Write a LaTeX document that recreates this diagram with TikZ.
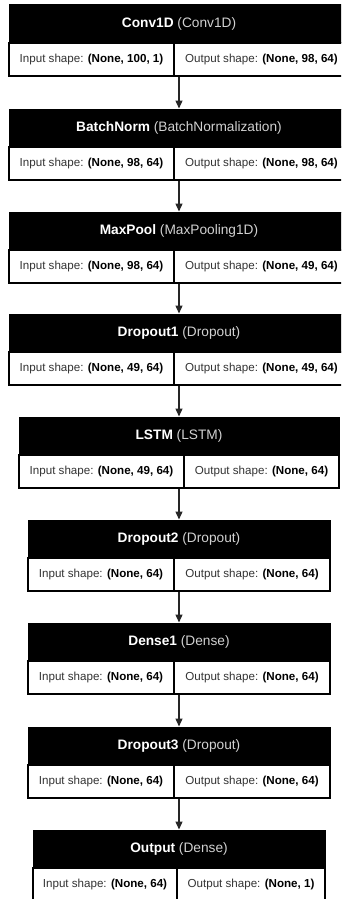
\documentclass[tikz,border=0pt]{standalone}
\usepackage{fontspec}
\setmainfont{Liberation Sans}
\usetikzlibrary{arrows.meta}
\definecolor{typegray}{gray}{0.82}
\definecolor{txtgray}{gray}{0.2}
\tikzset{
  hdr/.style={rectangle, fill=black, draw=black, line width=1pt, minimum height=38pt, inner sep=0pt, text=white, font=\fontsize{13.7}{16}\selectfont},
  cell/.style={rectangle, fill=white, draw=black, line width=1.2pt, minimum height=33pt, inner sep=0pt, text=txtgray, font=\fontsize{11.6}{14}\selectfont},
  arr/.style={draw=black!85, line width=1.3pt, -{Triangle[length=8pt,width=7pt]}}
}
% #1 id, #2 top, #3 left, #4 divider, #5 right, #6 name, #7 type, #8 in, #9 out
\newcommand{\layerbox}[9]{%
  \node[hdr, minimum width=#5pt-#3pt] (h#1) at ({(#3+#5)/2}, {-#2-19}) {\textbf{#6} \textcolor{typegray}{(#7)}};
  \node[cell, minimum width=#4pt-#3pt] (i#1) at ({(#3+#4)/2}, {-#2-38-16.5}) {Input shape: \textcolor{black}{\textbf{#8}}};
  \node[cell, minimum width=#5pt-#4pt] (o#1) at ({(#4+#5)/2}, {-#2-38-16.5}) {Output shape: \textcolor{black}{\textbf{#9}}};
}
\begin{document}
\begin{tikzpicture}[x=1pt, y=1pt]
\useasboundingbox (0,0) rectangle (341,-899);
\fill[white] (0,0) rectangle (341,-899);
\clip (0,0) rectangle (341,-899);
\layerbox{1}{5}{9}{174}{349}{Conv1D}{Conv1D}{(None, 100, 1)}{(None, 98, 64)}
\layerbox{2}{109}{9}{174}{349}{BatchNorm}{BatchNormalization}{(None, 98, 64)}{(None, 98, 64)}
\layerbox{3}{212}{9}{174}{349}{MaxPool}{MaxPooling1D}{(None, 98, 64)}{(None, 49, 64)}
\layerbox{4}{314}{9}{174}{349}{Dropout1}{Dropout}{(None, 49, 64)}{(None, 49, 64)}
\layerbox{5}{417}{19}{184}{339}{LSTM}{LSTM}{(None, 49, 64)}{(None, 64)}
\layerbox{6}{520}{28}{174}{330}{Dropout2}{Dropout}{(None, 64)}{(None, 64)}
\layerbox{7}{623}{28}{174}{330}{Dense1}{Dense}{(None, 64)}{(None, 64)}
\layerbox{8}{727}{28}{174}{330}{Dropout3}{Dropout}{(None, 64)}{(None, 64)}
\layerbox{9}{830}{33}{177}{325}{Output}{Dense}{(None, 64)}{(None, 1)}
\foreach \a/\b in {1/2,2/3,3/4,4/5,5/6,6/7,7/8,8/9}{
  \draw[arr] (h\b.north |- o\a.south) -- (h\b.north);
}
\end{tikzpicture}
\end{document}
